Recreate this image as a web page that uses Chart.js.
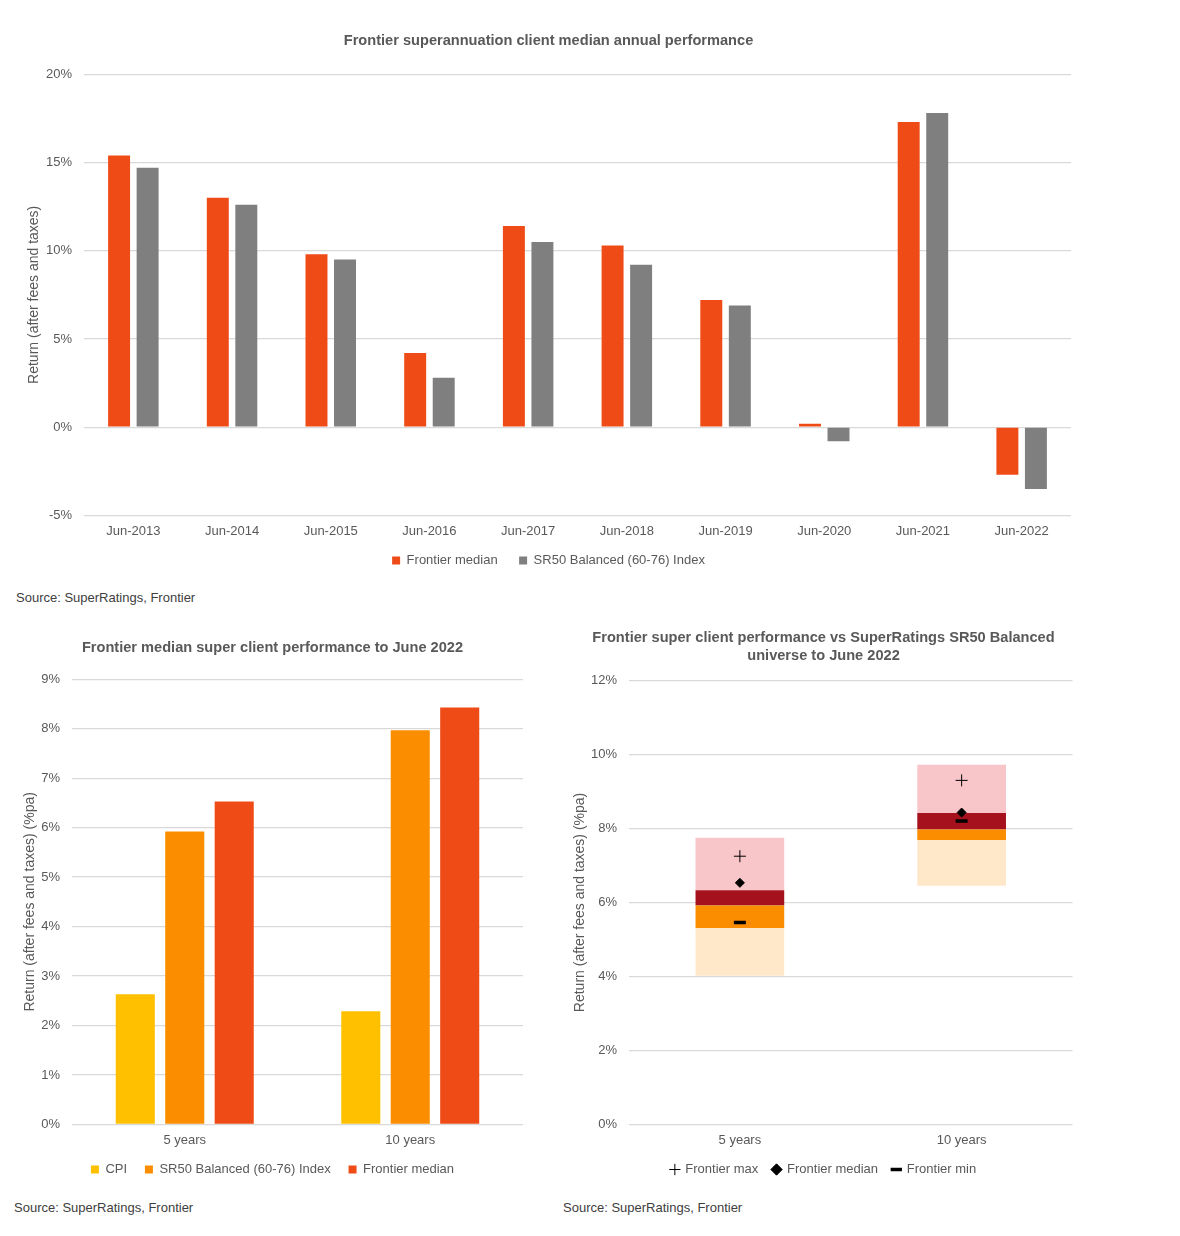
<!DOCTYPE html>
<html>
<head>
<meta charset="utf-8">
<title>Frontier superannuation client performance</title>
<script src="https://cdn.jsdelivr.net/npm/chart.js@4.4.1/dist/chart.umd.min.js"></script>
<style>
  body { margin: 0; background: #fff; font-family: "Liberation Sans", Arial, sans-serif; }
  .box { position: absolute; }
  .source { position: absolute; font-size: 13px; color: #404040; }
</style>
</head>
<body>
<div class="box" style="left:0;top:20px;"><canvas id="annual" width="1090" height="560"></canvas></div>
<div class="source" style="left:16px;top:590px;">Source: SuperRatings, Frontier</div>

<div class="box" style="left:0;top:620px;"><canvas id="median" width="540" height="566"></canvas></div>
<div class="source" style="left:14px;top:1200px;">Source: SuperRatings, Frontier</div>

<div class="box" style="left:560px;top:620px;"><canvas id="universe" width="522" height="566"></canvas></div>
<div class="source" style="left:563px;top:1200px;">Source: SuperRatings, Frontier</div>

<script>
// ---- data ----
const years = ["Jun-2013", "Jun-2014", "Jun-2015", "Jun-2016", "Jun-2017",
               "Jun-2018", "Jun-2019", "Jun-2020", "Jun-2021", "Jun-2022"];
const frontierAnnual = [15.4, 13.0, 9.8, 4.2, 11.4, 10.3, 7.2, 0.2, 17.3, -2.7];
const sr50Annual = [14.7, 12.6, 9.5, 2.8, 10.5, 9.2, 6.9, -0.8, 17.8, -3.5];

const periods = ["5 years", "10 years"];
const cpi = [2.63, 2.29];
const sr50Median = [5.92, 7.97];
const frontierMedian = [6.53, 8.43];

// SR50 Balanced universe percentiles
const srP5 = [4.02, 6.45];
const srP25 = [5.3, 7.69];
const srP50 = [5.92, 7.97];
const srP75 = [6.33, 8.42];
const srP95 = [7.75, 9.72];
const frontierMax = [7.25, 9.3];
const frontierMid = [6.53, 8.43];
const frontierMin = [5.46, 8.2];

// ---- shared look ----
Chart.defaults.font.family = '"Liberation Sans", Arial, sans-serif';
Chart.defaults.font.size = 13;
Chart.defaults.color = "#595959";
Chart.defaults.animation = false;

const ORANGE_RED = "#EF4B17";
const GREY = "#7F7F7F";
const GRID = "#d9d9d9";

function pct(v) { return v + "%"; }

function yAxis(min, max, step, title, width) {
  return {
    min: min, max: max,
    ticks: { stepSize: step, callback: pct, padding: 12, color: "#595959" },
    grid: { color: GRID, lineWidth: 1.3, drawTicks: false },
    border: { display: false },
    title: { display: true, text: title, font: { size: 14 }, color: "#595959", padding: 0 },
    afterFit: function (scale) { scale.width = width; }
  };
}

const xAxis = {
  grid: { display: false, drawTicks: false },
  border: { display: false },
  ticks: { color: "#595959", padding: 8 }
};

function titleOpts(text, top, bottom) {
  return {
    display: true, text: text, color: "#595959",
    font: { size: 14.6, weight: "bold", lineHeight: 1.25 },
    padding: { top: top, bottom: bottom }
  };
}

// legend items a little further apart than the box padding allows
function legendOpts(pointStyle, gap) {
  return {
    position: "bottom",
    labels: {
      usePointStyle: pointStyle, boxWidth: 8, boxHeight: 8, padding: 7,
      color: "#595959",
      generateLabels: function (chart) {
        const items = Chart.defaults.plugins.legend.labels.generateLabels(chart)
          .filter(function (it) { return it.datasetIndex < 3; });
        items.forEach(function (it, i) { if (i < items.length - 1) it.text += gap; });
        return items;
      }
    }
  };
}

// ---- top chart ----
new Chart(document.getElementById("annual"), {
  type: "bar",
  data: {
    labels: years,
    datasets: [
      { label: "Frontier median", data: frontierAnnual, backgroundColor: ORANGE_RED },
      { label: "SR50 Balanced (60-76) Index", data: sr50Annual, backgroundColor: GREY }
    ]
  },
  options: {
    responsive: false,
    categoryPercentage: 0.578,
    barPercentage: 0.77,
    layout: { padding: { left: 26, right: 19, bottom: 3 } },
    scales: {
      x: xAxis,
      y: yAxis(-5, 20, 5, "Return (after fees and taxes)", 58)
    },
    plugins: {
      title: titleOpts("Frontier superannuation client median annual performance", 12, 24),
      legend: legendOpts(false, "    "),
      tooltip: { enabled: false }
    }
  }
});

// ---- bottom left ----
new Chart(document.getElementById("median"), {
  type: "bar",
  data: {
    labels: periods,
    datasets: [
      { label: "CPI", data: cpi, backgroundColor: "#FFC000" },
      { label: "SR50 Balanced (60-76) Index", data: sr50Median, backgroundColor: "#FB8E00" },
      { label: "Frontier median", data: frontierMedian, backgroundColor: ORANGE_RED }
    ]
  },
  options: {
    responsive: false,
    categoryPercentage: 0.658,
    barPercentage: 0.79,
    layout: { padding: { left: 22, right: 17, bottom: 0 } },
    scales: {
      x: xAxis,
      y: yAxis(0, 9, 1, "Return (after fees and taxes) (%pa)", 50)
    },
    plugins: {
      title: titleOpts("Frontier median super client performance to June 2022", 19, 22),
      legend: legendOpts(false, "   "),
      tooltip: { enabled: false }
    }
  }
});

// ---- bottom right ----
function band(lo, hi) { return lo.map(function (v, i) { return [v, hi[i]]; }); }

function marker(label, data, style, radius, width) {
  return {
    type: "line", label: label, data: data, showLine: false, order: 0,
    pointStyle: style, pointRadius: radius, pointBorderWidth: width,
    borderColor: "#000", backgroundColor: "#000", borderWidth: width
  };
}

new Chart(document.getElementById("universe"), {
  type: "bar",
  data: {
    labels: periods,
    datasets: [
      marker("Frontier max", frontierMax, "cross", 6, 1),
      marker("Frontier median", frontierMid, "rectRot", 4.5, 1),
      marker("Frontier min", frontierMin, "line", 6, 3.5),
      { label: "5th-25th", data: band(srP5, srP25), backgroundColor: "#FFE7CA", grouped: false, order: 1 },
      { label: "25th-50th", data: band(srP25, srP50), backgroundColor: "#FB8E00", grouped: false, order: 1 },
      { label: "50th-75th", data: band(srP50, srP75), backgroundColor: "#A5121E", grouped: false, order: 1 },
      { label: "75th-95th", data: band(srP75, srP95), backgroundColor: "#F8C5C9", grouped: false, order: 1 }
    ]
  },
  options: {
    responsive: false,
    categoryPercentage: 0.5,
    barPercentage: 0.8,
    layout: { padding: { left: 12, right: 7, bottom: 0 } },
    scales: {
      x: xAxis,
      y: yAxis(0, 12, 2, "Return (after fees and taxes) (%pa)", 57)
    },
    plugins: {
      title: titleOpts(["Frontier super client performance vs SuperRatings SR50 Balanced",
                        "universe to June 2022"], 9, 15),
      legend: legendOpts(true, "  "),
      tooltip: { enabled: false }
    }
  }
});
</script>
</body>
</html>
